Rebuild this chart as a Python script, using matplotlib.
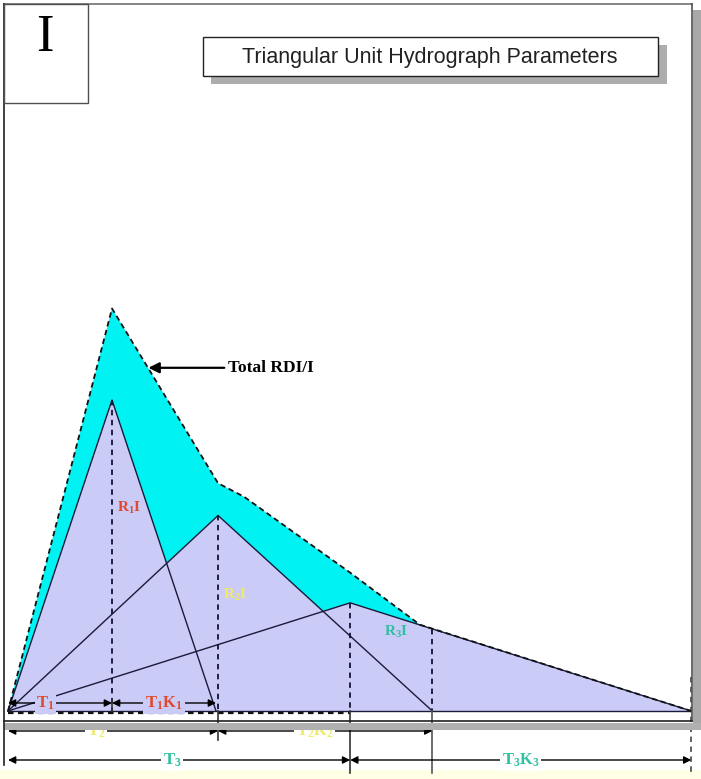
import matplotlib
matplotlib.use("Agg")
import matplotlib.pyplot as plt
from matplotlib.patches import Rectangle
import numpy as np

plt.rcParams['mathtext.fontset'] = 'custom'
plt.rcParams['mathtext.rm'] = 'Liberation Serif'
plt.rcParams['mathtext.it'] = 'Liberation Serif:italic'
plt.rcParams['mathtext.bf'] = 'Liberation Serif:bold'

# ---------------- data (time units / flow units) ----------------
tri_names = ["R1", "R2", "R3"]
tri_peak_t = [1.0, 2.02, 3.29]     # T1, T2, T3
tri_end_t = [2.0, 4.08, 6.57]      # T(1+K)
tri_peak_q = [2.99, 1.88, 1.04]    # R*I peak heights

total_t = [0.0, 1.0, 2.02, 2.27, 3.29, 3.96, 6.57]
total_q = [0.0, 3.87, 2.19, 2.06, 1.33, 0.83, 0.0]

tri_label_text = [r"$\mathbf{R_1I}$", r"$\mathbf{R_2I}$", r"$\mathbf{R_3I}$"]
tri_colors = ["#E04A2C", "#EEEA6A", "#2EC0A0"]
dim_peak_text = [r"$\mathbf{T_1}$", r"$\mathbf{T_2}$", r"$\mathbf{T_3}$"]
dim_rec_text = [r"$\mathbf{T_1K_1}$", r"$\mathbf{T_2K_2}$", r"$\mathbf{T_3K_3}$"]
title_text = "Triangular Unit Hydrograph Parameters"
panel_text = "I"
total_text = "Total RDI/I"

# ---------------- figure ----------------
W, H = 701, 779
fig = plt.figure(figsize=(W / 100, H / 100), dpi=100)
fig.patch.set_facecolor("white")
ax = fig.add_axes([0, 0, 1, 1])
PX = 104.0
X0, Y0 = 8, 711
ax.set_xlim(-X0 / PX, (W - X0) / PX)
ax.set_ylim(-(H - Y0) / PX, Y0 / PX)
ax.axis("off")

def fx(px):
    return px / W

def fy(py):
    return 1 - py / H

def prect(x0, y0, x1, y1, **kw):
    r = Rectangle((fx(x0), fy(y1)), fx(x1) - fx(x0), fy(y0) - fy(y1),
                  transform=fig.transFigure, **kw)
    fig.add_artist(r)

def pline(xs, ys, **kw):
    fig.add_artist(plt.Line2D([fx(x) for x in xs], [fy(y) for y in ys],
                              transform=fig.transFigure, **kw))

# bottom light-yellow strip
prect(0, 770, W, H, facecolor="#FFFFE6", edgecolor="none", zorder=0)

# frame shadow
prect(693, 10, W, 730, facecolor="#A8A8A8", edgecolor="none", zorder=1)
prect(4, 723, W, 730, facecolor="#B0B0B0", edgecolor="none", zorder=1)
# frame
pline([4, 692], [4, 4], color="#707070", lw=1.2, zorder=2)
pline([692, 692], [4, 721], color="#505050", lw=1.2, zorder=2)
pline([4, 692], [721, 721], color="#202020", lw=1.2, zorder=2)
pline([4, 4], [4, 765], color="#202020", lw=1.2, zorder=2)

# panel box "I"
prect(4, 4, 88, 103, facecolor="white", edgecolor="#505050", lw=1.0, zorder=3)
fig.text(fx(45), fy(38), panel_text, family="Liberation Serif", fontsize=38,
         ha="center", va="center", zorder=4)

# title box with shadow
prect(211, 45, 667, 84, facecolor="#ADADAD", edgecolor="none", zorder=3)
prect(203, 37, 658, 76, facecolor="white", edgecolor="#222222", lw=1.0, zorder=4)
fig.text(fx(430), fy(57), title_text, family="Liberation Sans", fontsize=15.5,
         ha="center", va="center", color="#222222", zorder=5)

# ---------------- hydrograph ----------------
lav = "#CBCBF7"
cyan = "#00F2F2"
ax.fill(total_t, total_q, color=cyan, zorder=3, lw=0)
for tp, te, qp in zip(tri_peak_t, tri_end_t, tri_peak_q):
    ax.fill([0, tp, te], [0, qp, 0], color=lav, lw=0, zorder=4)
for tp, te, qp in zip(tri_peak_t, tri_end_t, tri_peak_q):
    ax.plot([0, tp, te], [0, qp, 0], color="#1A1A3A", lw=1.0, zorder=6)
ax.plot(total_t, total_q, color="#111111", lw=1.3, ls=(0, (3, 2)), zorder=7)
ax.plot([0, total_t[-1]], [0, 0], color="#1A1A3A", lw=1.0, zorder=6)
ax.plot([0, tri_peak_t[2]], [-0.02, -0.02], color="#111111", lw=1.6,
        ls=(0, (2.5, 2)), zorder=6)

# vertical guide lines
dashed = dict(color="#111133", lw=1.3, ls=(0, (3, 2.5)), zorder=6)
solid = dict(color="#333333", lw=1.2, zorder=6)
ax.plot([tri_peak_t[0]] * 2, [tri_peak_q[0], 0], **dashed)
ax.plot([tri_peak_t[0]] * 2, [0.12, 0], **solid)
ax.plot([tri_peak_t[1]] * 2, [tri_peak_q[1], 0], **dashed)
ax.plot([tri_peak_t[1]] * 2, [0, -0.28], **solid)
ax.plot([tri_peak_t[2]] * 2, [tri_peak_q[2], 0], **dashed)
ax.plot([tri_peak_t[2]] * 2, [0, -0.6], **solid)
q_at_te2 = np.interp(tri_end_t[1], [tri_peak_t[2], tri_end_t[2]], [tri_peak_q[2], 0])
ax.plot([tri_end_t[1]] * 2, [q_at_te2, 0], **dashed)
ax.plot([tri_end_t[1]] * 2, [0, -0.6], color="#555555", lw=1.2, zorder=6)
ax.plot([tri_end_t[2]] * 2, [0.33, -0.6], color="#555555", lw=1.3,
        ls=(0, (3, 2.5)), zorder=6)

# peak labels
ax.text(tri_peak_t[0] + 0.05, 1.95, tri_label_text[0], color=tri_colors[0],
        fontsize=11, ha="left", va="center", zorder=8)
ax.text(tri_peak_t[1] + 0.05, 1.12, tri_label_text[1], color=tri_colors[1],
        fontsize=11, ha="left", va="center", zorder=8)
ax.text(tri_peak_t[2] + 0.33, 0.76, tri_label_text[2], color=tri_colors[2],
        fontsize=11, ha="left", va="center", zorder=8)

# Total label with arrow
ax.annotate("", xy=(1.35, 3.3), xytext=(2.08, 3.3),
            arrowprops=dict(arrowstyle="-|>", color="black", lw=1.6,
                            mutation_scale=16, shrinkA=0, shrinkB=0), zorder=8)
ax.text(2.12, 3.3, total_text, family="Liberation Serif", fontweight="bold",
        fontsize=12.5, ha="left", va="center", zorder=8)

# dimension arrows
def dim(t0, t1, y, txt, color, bg, frac=0.5):
    ax.annotate("", xy=(t0, y), xytext=(t1, y),
                arrowprops=dict(arrowstyle="<|-|>", color="black", lw=1.0,
                                mutation_scale=11, shrinkA=0, shrinkB=0), zorder=8)
    ax.text(t0 + (t1 - t0) * frac, y, txt, color=color, fontsize=12,
            ha="center", va="center", zorder=9,
            bbox=dict(boxstyle="square,pad=0.1", fc=bg, ec="none"))

yA, yB, yC = 8 / PX, -20 / PX, -49 / PX
dim(0, tri_peak_t[0], yA, dim_peak_text[0], tri_colors[0], lav, 0.36)
dim(tri_peak_t[0], tri_end_t[0], yA, dim_rec_text[0], tri_colors[0], lav, 0.5)
dim(0, tri_peak_t[1], yB, dim_peak_text[1], tri_colors[1], "white", 0.42)
dim(tri_peak_t[1], tri_end_t[1], yB, dim_rec_text[1], tri_colors[1], "white", 0.45)
dim(0, tri_peak_t[2], yC, dim_peak_text[2], tri_colors[2], "white", 0.48)
dim(tri_peak_t[2], tri_end_t[2], yC, dim_rec_text[2], tri_colors[2], "white", 0.5)

fig.savefig("out.png", dpi=100, facecolor="white")
